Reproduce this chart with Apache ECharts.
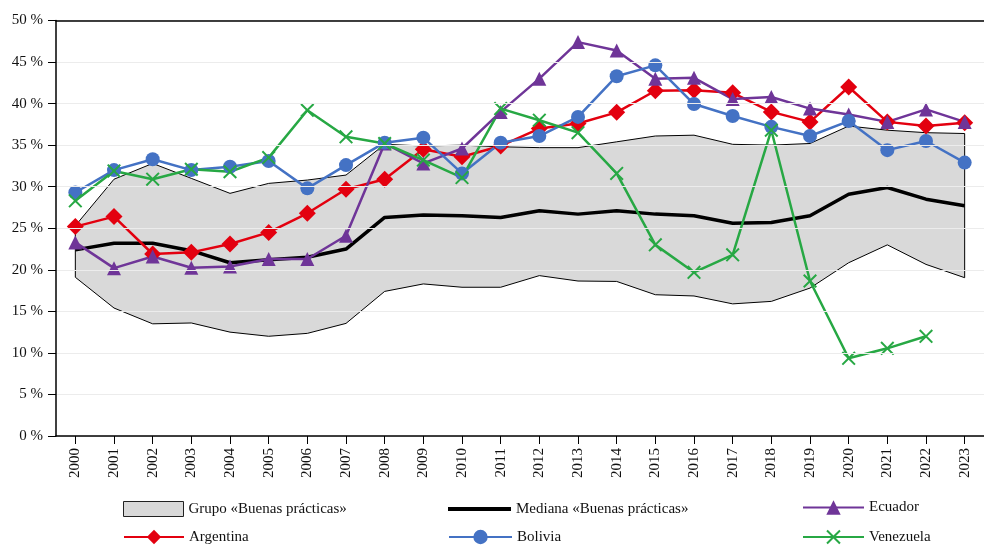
<!DOCTYPE html>
<html>
<head>
<meta charset="utf-8">
<script src="https://cdn.jsdelivr.net/npm/echarts@6/dist/echarts.min.js"></script>
<style>
  html, body { margin: 0; padding: 0; background: #fff; }
  #chart { width: 984px; height: 545px; }
</style>
</head>
<body>
<div id="chart"></div>
<script>
// Years on the horizontal axis
const years = ['2000','2001','2002','2003','2004','2005','2006','2007','2008','2009','2010','2011',
               '2012','2013','2014','2015','2016','2017','2018','2019','2020','2021','2022','2023'];

// Range of the «Buenas prácticas» group (upper and lower bounds), %
const groupUpper = [25.3, 30.9, 32.8, 31.0, 29.2, 30.4, 30.8, 31.4, 35.1, 34.9, 35.0, 34.8,
                    34.7, 34.7, 35.4, 36.1, 36.2, 35.1, 35.0, 35.2, 37.3, 36.8, 36.5, 36.4];
const groupLower = [19.1, 15.4, 13.5, 13.6, 12.5, 12.0, 12.35, 13.55, 17.4, 18.3, 17.9, 17.9,
                    19.3, 18.65, 18.6, 17.0, 16.85, 15.9, 16.2, 17.8, 20.85, 23.0, 20.65, 19.05];

// Median of the group, %
const groupMedian = [22.4, 23.2, 23.2, 22.3, 20.85, 21.2, 21.5, 22.5, 26.3, 26.6, 26.5, 26.3,
                     27.1, 26.7, 27.1, 26.7, 26.5, 25.6, 25.7, 26.5, 29.1, 29.9, 28.5, 27.7];

// Country series, %
const argentina = [25.2, 26.4, 21.9, 22.1, 23.1, 24.5, 26.8, 29.7, 30.9, 34.5, 33.6, 34.9,
                   37.0, 37.6, 38.95, 41.55, 41.6, 41.3, 39.0, 37.8, 42.0, 37.8, 37.3, 37.7];
const bolivia   = [29.3, 32.0, 33.3, 32.0, 32.4, 33.1, 29.8, 32.6, 35.3, 35.9, 31.6, 35.3,
                   36.1, 38.4, 43.3, 44.6, 39.95, 38.5, 37.2, 36.1, 37.9, 34.4, 35.5, 32.9];
const ecuador   = [23.3, 20.2, 21.6, 20.25, 20.4, 21.3, 21.3, 24.1, 35.2, 32.8, 34.6, 39.0,
                   43.0, 47.4, 46.4, 43.0, 43.1, 40.55, 40.8, 39.4, 38.7, 37.8, 39.3, 37.8];
const venezuela = [28.3, 31.9, 30.9, 32.1, 31.8, 33.5, 39.2, 36.0, 35.2, 33.2, 31.1, 39.4,
                   38.0, 36.5, 31.6, 23.0, 19.7, 21.8, 36.8, 18.65, 9.35, 10.55, 12.0, null];

// Value axis ticks
const yMin = 0, yMax = 50, yStep = 5;

const serif = 'Liberation Serif';
const crossPath = 'path://M1,0 L5,4 L9,0 L10,1 L6,5 L10,9 L9,10 L5,6 L1,10 L0,9 L4,5 L0,1 Z';
const thickLinePath = 'path://M0,0 L63,0 L63,4 L0,4 Z';

const chart = echarts.init(document.getElementById('chart'), null, { renderer: 'canvas' });

const countrySeries = (name, data, color, symbol, size) => ({
  name, type: 'line', data,
  symbol, symbolSize: size,
  showSymbol: true,
  connectNulls: false,
  lineStyle: { color, width: 2.5 },
  itemStyle: { color, borderWidth: 0 },
  emphasis: { disabled: true },
  z: 4
});

// One legend box per entry, arranged in a 3 x 2 grid under the axis
const legendItem = (item, left, top, itemWidth, itemHeight) => ({
  orient: 'horizontal', left, top, padding: 0,
  itemWidth, itemHeight,
  textStyle: { fontFamily: serif, fontSize: 15, color: '#111' },
  selectedMode: false,
  data: [item]
});

chart.setOption({
  animation: false,
  backgroundColor: '#ffffff',
  grid: { left: 56, right: -8, top: 20.5, bottom: 109, containLabel: false },
  xAxis: [{
    type: 'category',
    data: years,
    boundaryGap: true,
    axisLine: { lineStyle: { color: '#000', width: 1.5 } },
    axisTick: { show: true, alignWithLabel: true, length: 8, lineStyle: { color: '#000', width: 1 } },
    axisLabel: { rotate: 90, margin: 12, fontFamily: serif, fontSize: 15, color: '#111', interval: 0 },
    splitLine: { show: false },
    z: 5
  }, {
    type: 'category',
    data: years,
    position: 'top',
    boundaryGap: true,
    axisLine: { lineStyle: { color: '#000', width: 1.5 } },
    axisTick: { show: false },
    axisLabel: { show: false },
    z: 5
  }],
  yAxis: {
    type: 'value',
    min: yMin, max: yMax, interval: yStep,
    axisLine: { show: true, lineStyle: { color: '#000', width: 1.5 } },
    axisTick: { show: true, length: 8, lineStyle: { color: '#000', width: 1 } },
    axisLabel: { formatter: '{value} %', margin: 13, fontFamily: serif, fontSize: 15, color: '#111' },
    splitLine: { show: true, lineStyle: { color: '#ececec', width: 1 } },
    z: 5
  },
  legend: [
    legendItem({ name: 'Grupo «Buenas prácticas»', icon: 'rect',
                 itemStyle: { color: '#d9d9d9', borderColor: '#222', borderWidth: 1 } }, 123, 501, 60, 15),
    legendItem({ name: 'Mediana «Buenas prácticas»', icon: thickLinePath,
                 itemStyle: { color: '#000' } }, 448, 501.5, 63, 14),
    legendItem('Ecuador', 802, 500, 61, 18),
    legendItem('Argentina', 123, 529.5, 60, 18),
    legendItem('Bolivia', 448, 529.5, 63, 18),
    legendItem('Venezuela', 802, 529.5, 61, 18)
  ],
  series: [
    {
      // Shaded band between the group's lower and upper bounds, outlined in black
      name: 'Grupo «Buenas prácticas»',
      type: 'custom',
      data: [[0, 0]],
      itemStyle: { color: '#d9d9d9' },
      z: 1,
      renderItem: function (params, api) {
        const pts = [];
        for (let i = 0; i < years.length; i++) pts.push(api.coord([i, groupUpper[i]]));
        for (let i = years.length - 1; i >= 0; i--) pts.push(api.coord([i, groupLower[i]]));
        return {
          type: 'polygon',
          shape: { points: pts },
          style: { fill: '#d9d9d9', stroke: '#000', lineWidth: 1 }
        };
      }
    },
    {
      name: 'Mediana «Buenas prácticas»',
      type: 'line', data: groupMedian,
      symbol: 'none',
      lineStyle: { color: '#000', width: 3.5 },
      itemStyle: { color: '#000' },
      z: 3
    },
    countrySeries('Argentina', argentina, '#e3000f', 'diamond', 17),
    countrySeries('Ecuador', ecuador, '#6f3598', 'triangle', 14),
    countrySeries('Bolivia', bolivia, '#4472c4', 'circle', 14),
    countrySeries('Venezuela', venezuela, '#27a844', crossPath, 14)
  ]
});
</script>
</body>
</html>
